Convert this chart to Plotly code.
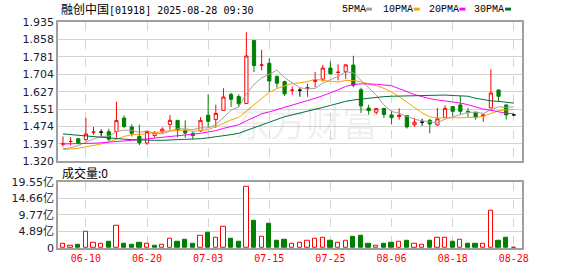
import plotly.graph_objects as go
import pandas as pd

# ---------------- data ----------------
dates = ["2025-06-05", "2025-06-06", "2025-06-09", "2025-06-10", "2025-06-11", "2025-06-12", "2025-06-13",
         "2025-06-16", "2025-06-17", "2025-06-18", "2025-06-19", "2025-06-20", "2025-06-23", "2025-06-24",
         "2025-06-25", "2025-06-26", "2025-06-27", "2025-06-30", "2025-07-02", "2025-07-03", "2025-07-04",
         "2025-07-07", "2025-07-08", "2025-07-09", "2025-07-10", "2025-07-11", "2025-07-14", "2025-07-15",
         "2025-07-16", "2025-07-17", "2025-07-18", "2025-07-21", "2025-07-22", "2025-07-23", "2025-07-24",
         "2025-07-25", "2025-07-28", "2025-07-29", "2025-07-30", "2025-07-31", "2025-08-01", "2025-08-04",
         "2025-08-05", "2025-08-06", "2025-08-07", "2025-08-08", "2025-08-11", "2025-08-12", "2025-08-13",
         "2025-08-14", "2025-08-15", "2025-08-18", "2025-08-19", "2025-08-20", "2025-08-21", "2025-08-22",
         "2025-08-25", "2025-08-26", "2025-08-27", "2025-08-28"]

opens = [1.396, 1.408, 1.420, 1.416, 1.449, 1.449, 1.451, 1.452, 1.511, 1.472,
         1.430, 1.401, 1.434, 1.450, 1.483, 1.501, 1.456, 1.443, 1.455, 1.524,
         1.505, 1.545, 1.615, 1.606, 1.575, 1.853, 1.745, 1.753, 1.694, 1.672,
         1.634, 1.634, 1.641, 1.673, 1.683, 1.732, 1.713, 1.716, 1.745, 1.636,
         1.555, 1.537, 1.554, 1.525, 1.518, 1.522, 1.481, 1.493, 1.501, 1.481,
         1.514, 1.562, 1.569, 1.541, 1.537, 1.520, 1.556, 1.635, 1.569, 1.525]
highs = [1.430, 1.427, 1.422, 1.512, 1.472, 1.461, 1.464, 1.583, 1.523, 1.483,
         1.482, 1.455, 1.454, 1.470, 1.524, 1.503, 1.501, 1.455, 1.515, 1.615,
         1.570, 1.643, 1.623, 1.616, 1.890, 1.856, 1.812, 1.775, 1.700, 1.676,
         1.650, 1.643, 1.663, 1.715, 1.746, 1.761, 1.748, 1.747, 1.786, 1.645,
         1.570, 1.555, 1.556, 1.544, 1.554, 1.523, 1.511, 1.508, 1.508, 1.556,
         1.567, 1.563, 1.608, 1.555, 1.538, 1.526, 1.726, 1.636, 1.570, 1.525]
lows = [1.385, 1.390, 1.396, 1.408, 1.437, 1.427, 1.410, 1.424, 1.466, 1.430,
        1.392, 1.393, 1.425, 1.445, 1.460, 1.426, 1.425, 1.418, 1.450, 1.469,
        1.468, 1.544, 1.560, 1.560, 1.573, 1.714, 1.722, 1.626, 1.645, 1.608,
        1.615, 1.605, 1.605, 1.646, 1.672, 1.702, 1.677, 1.684, 1.647, 1.533,
        1.527, 1.527, 1.512, 1.483, 1.504, 1.465, 1.473, 1.477, 1.444, 1.477,
        1.512, 1.520, 1.529, 1.516, 1.504, 1.495, 1.555, 1.584, 1.505, 1.525]
closes = [1.398, 1.408, 1.399, 1.441, 1.449, 1.449, 1.418, 1.500, 1.474, 1.444,
          1.402, 1.452, 1.447, 1.462, 1.501, 1.460, 1.445, 1.434, 1.501, 1.497,
          1.532, 1.604, 1.594, 1.574, 1.785, 1.743, 1.745, 1.675, 1.665, 1.618,
          1.634, 1.634, 1.646, 1.678, 1.732, 1.707, 1.713, 1.746, 1.656, 1.565,
          1.544, 1.553, 1.527, 1.513, 1.524, 1.472, 1.493, 1.493, 1.485, 1.508,
          1.554, 1.541, 1.541, 1.536, 1.515, 1.525, 1.622, 1.607, 1.525, 1.525]
# volume in 亿
volumes = [1.15, 0.57, 0.86, 4.87, 1.43, 1.15, 1.72, 6.58, 1.15, 0.86,
           1.43, 1.34, 0.57, 1.05, 2.77, 1.72, 2.58, 1.15, 3.63, 4.58,
           3.05, 6.20, 2.86, 1.72, 18.2, 8.02, 3.34, 7.16, 2.00, 2.29,
           1.15, 1.43, 2.00, 2.77, 3.15, 2.00, 1.43, 2.00, 3.44, 3.72,
           1.15, 0.57, 1.15, 1.43, 1.72, 2.00, 1.15, 0.86, 2.00, 3.15,
           3.15, 1.72, 2.58, 1.15, 1.15, 1.15, 11.07, 2.00, 3.15, 0.0]

ma5_head = [1.376, 1.380, 1.390, 1.404]
ma10_head = [1.372, 1.374, 1.378, 1.384, 1.390, 1.397, 1.406, 1.418, 1.430]
ma20_head = [1.397, 1.397, 1.397, 1.398, 1.400, 1.402, 1.404, 1.407, 1.410, 1.413,
             1.416, 1.419, 1.422, 1.425, 1.429, 1.433, 1.437, 1.440, 1.444]
ma30_head = [1.441, 1.438, 1.434, 1.430, 1.427, 1.424, 1.422, 1.420, 1.418, 1.416,
             1.414, 1.413, 1.413, 1.413, 1.414, 1.415, 1.416, 1.418, 1.420, 1.424,
             1.428, 1.433, 1.438, 1.444, 1.456, 1.468, 1.480, 1.492, 1.504]

tick_dates = ["2025-06-10", "2025-06-20", "2025-07-03", "2025-07-15",
              "2025-07-25", "2025-08-06", "2025-08-18", "2025-08-28"]
tick_texts = ["06-10", "06-20", "07-03", "07-15", "07-25", "08-06", "08-18", "08-28"]
price_ticks = ["1.320", "1.397", "1.474", "1.551", "1.627", "1.704", "1.781", "1.858", "1.935"]
vol_ticks = ["0", "4.89亿", "9.77亿", "14.66亿", "19.55亿"]
title_name = "融创中国"
title_rest = "[01918] 2025-08-28 09:30"
vol_label = "成交量:0"
ma_names = ["5PMA", "10PMA", "20PMA", "30PMA"]

# ---------------- styles ----------------
RED = "#FF0000"
GREEN = "#008000"
BLACK = "#000000"
MA_COLORS = ["#A0A0A0", "#F5A300", "#FF00FF", "#00703A"]
GRID = "#D4D4D4"
FRAME = "#A0A0A0"

W, H = 578, 276
L, R, T, B = 55, 56, 22, 21
PW, PH = W - L - R, H - T - B
MAIN_BOTTOM_PX = 165.7
VOL_TOP_PX = 186.7


def px_x(p):
    return (p - L) / PW


def px_y(p):
    return (H - B - p) / PH


s = pd.Series(closes)


def ma(n, head):
    vals = s.rolling(n).mean().tolist()
    return head + vals[len(head):]


mas = [ma(5, ma5_head), ma(10, ma10_head), ma(20, ma20_head), ma(30, ma30_head)]

# classify candles
groups = {"up": [], "down": [], "flat": []}
for i, (o, c) in enumerate(zip(opens, closes)):
    if c > o:
        groups["up"].append(i)
    elif c < o:
        groups["down"].append(i)
    else:
        prev = closes[i - 1] if i > 0 else None
        if prev is None or c > prev:
            groups["up"].append(i)
        elif c < prev:
            groups["down"].append(i)
        else:
            groups["flat"].append(i)

vol_up = [i for i in range(len(closes)) if i == 0 or closes[i] >= closes[i - 1]]
vol_dn = [i for i in range(len(closes)) if not (i == 0 or closes[i] >= closes[i - 1])]

fig = go.Figure()

# MA lines
for name, vals, col in zip(ma_names, mas, MA_COLORS):
    fig.add_trace(go.Scatter(x=dates, y=vals, mode="lines", name=name,
                             line=dict(color=col, width=1), xaxis="x", yaxis="y",
                             hoverinfo="skip"))

style = {"up": (RED, "white"), "down": (GREEN, GREEN), "flat": (BLACK, BLACK)}
for g, idx in groups.items():
    if not idx:
        continue
    lc, fc = style[g]
    fig.add_trace(go.Candlestick(
        x=[dates[i] for i in idx],
        open=[opens[i] for i in idx], high=[highs[i] for i in idx],
        low=[lows[i] for i in idx], close=[closes[i] for i in idx],
        increasing=dict(line=dict(color=lc, width=1), fillcolor=fc),
        decreasing=dict(line=dict(color=lc, width=1), fillcolor=fc),
        whiskerwidth=0, xaxis="x", yaxis="y", showlegend=False))

fig.add_trace(go.Bar(x=[dates[i] for i in vol_up], y=[volumes[i] for i in vol_up],
                     marker=dict(color="white", line=dict(color=RED, width=1)),
                     width=0.56, xaxis="x2", yaxis="y2", showlegend=False))
fig.add_trace(go.Bar(x=[dates[i] for i in vol_dn], y=[volumes[i] for i in vol_dn],
                     marker=dict(color=GREEN, line=dict(color=GREEN, width=1)),
                     width=0.56, xaxis="x2", yaxis="y2", showlegend=False))

xr = [-0.65, len(dates) - 1 + 1.07]
common_x = dict(type="category", categoryorder="array", categoryarray=dates, range=xr,
                showgrid=True, gridcolor=GRID, griddash="dash", gridwidth=1,
                tickmode="array", tickvals=tick_dates, ticks="",
                showline=True, mirror=True, linecolor=FRAME, linewidth=1.5,
                zeroline=False, fixedrange=True)

main_dom = [px_y(MAIN_BOTTOM_PX), 1]
vol_dom = [0, px_y(VOL_TOP_PX)]

n = len(price_ticks) - 1
pt_vals = [1.320 + (1.935 - 1.320) * k / n for k in range(n + 1)]
vt_vals = [19.55 * k / 4 for k in range(5)]

tickfont = dict(family="DejaVu Sans, Noto Sans CJK SC", size=11, color="#1C1C30")

fig.update_layout(
    width=W, height=H, margin=dict(l=L, r=R, t=T, b=B),
    paper_bgcolor="white", plot_bgcolor="white", showlegend=False,
    boxgap=0.4, bargap=0,
    xaxis=dict(**common_x, anchor="y", showticklabels=False, rangeslider=dict(visible=False)),
    xaxis2=dict(**common_x, anchor="y2", matches="x", ticktext=tick_texts,
                tickfont=dict(family="DejaVu Sans Mono", size=10, color=RED)),
    yaxis=dict(domain=main_dom, range=[1.320, 1.935], tickmode="array", tickvals=pt_vals,
               ticktext=price_ticks, showgrid=True, gridcolor=GRID, gridwidth=1,
               showline=True, mirror=True, linecolor=FRAME, linewidth=1.5, ticks="",
               zeroline=False, tickfont=tickfont, fixedrange=True),
    yaxis2=dict(domain=vol_dom, range=[0, 19.55], tickmode="array", tickvals=vt_vals,
                ticktext=vol_ticks, showgrid=True, gridcolor=GRID, gridwidth=1,
                showline=True, mirror=True, linecolor=FRAME, linewidth=1.5, ticks="",
                zeroline=False, tickfont=tickfont, fixedrange=True),
)

annotations = [
    # watermark
    dict(text="东方财富", x=px_x(305), y=px_y(95), xref="paper", yref="paper",
         showarrow=False, font=dict(family="Noto Sans CJK SC", size=36, color="rgba(0,0,0,0.07)")),
    dict(text=f"<span style='font-family:Noto Sans CJK SC;font-size:12px'>{title_name}</span>{title_rest}",
         x=px_x(56), y=px_y(8.5), xref="paper", yref="paper", xanchor="left", yanchor="middle",
         showarrow=False, font=dict(family="DejaVu Sans Mono", size=10, color="#000000")),
    dict(text=vol_label, x=px_x(57), y=px_y(177), xref="paper", yref="paper",
         xanchor="left", yanchor="middle", showarrow=False,
         font=dict(family="Noto Sans CJK SC", size=12, color="#000000")),
]
legend_text_px = [339, 380, 426, 472]
legend_sw_px = [365, 413, 459, 505]
shapes = []
for name, tx, sx, col in zip(ma_names, legend_text_px, legend_sw_px, MA_COLORS):
    annotations.append(dict(text=name, x=px_x(tx), y=px_y(9.2), xref="paper", yref="paper",
                            xanchor="left", yanchor="middle", showarrow=False,
                            font=dict(family="Liberation Mono", size=10, color="#000000")))
    shapes.append(dict(type="rect", xref="paper", yref="paper",
                       x0=px_x(sx), x1=px_x(sx + 6), y0=px_y(10.2), y1=px_y(7.2),
                       fillcolor=col, line=dict(width=0)))
fig.update_layout(annotations=annotations, shapes=shapes)

fig.write_html("out.html")
